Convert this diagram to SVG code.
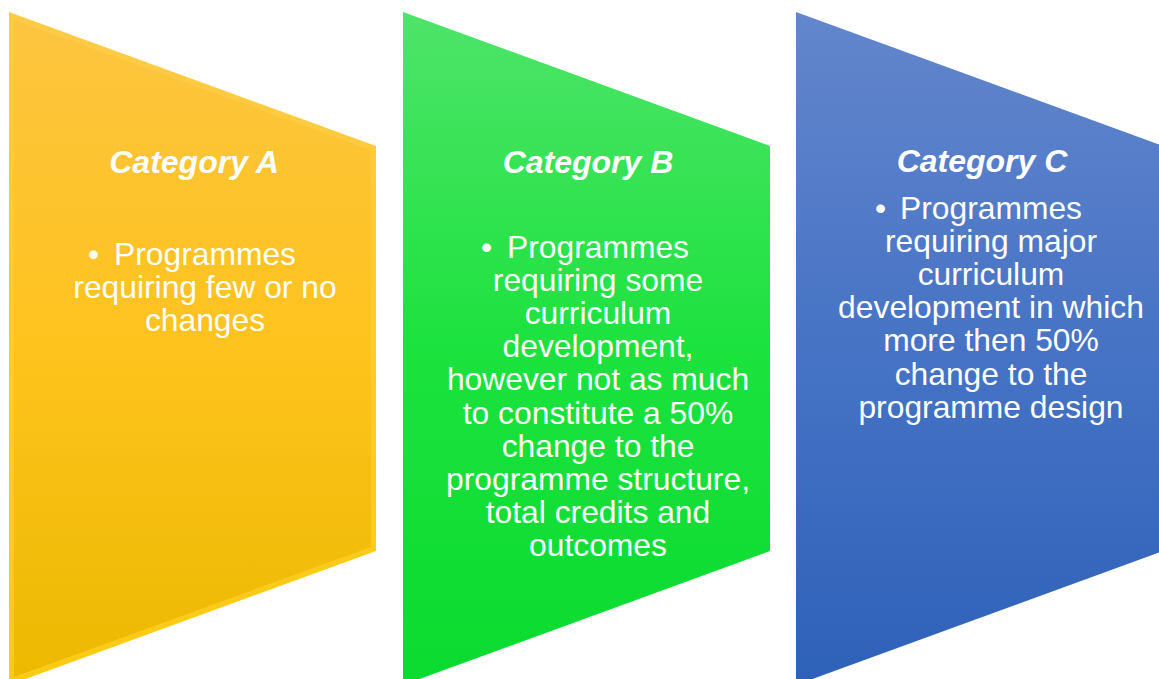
<svg xmlns="http://www.w3.org/2000/svg" width="1159" height="679" viewBox="0 0 1159 679">
  <style>
    .title { font-family: "Liberation Sans", Arial, sans-serif; font-size: 32px; font-weight: bold; font-style: italic; fill: #ffffff; text-anchor: middle; }
    .body { font-family: "Liberation Sans", Arial, sans-serif; font-size: 31.8px; fill: #ffffff; text-anchor: middle; }
    .bullet { font-family: "Liberation Sans", Arial, sans-serif; font-size: 31.8px; fill: #ffffff; }
  </style>
  <defs>
    <linearGradient id="gA" gradientUnits="userSpaceOnUse" x1="0" y1="12" x2="0" y2="685">
      <stop offset="0" stop-color="#FDC541"/>
      <stop offset="0.5" stop-color="#FEC31D"/>
      <stop offset="1" stop-color="#ECB900"/>
    </linearGradient>
    <linearGradient id="gAedge" gradientUnits="userSpaceOnUse" x1="0" y1="12" x2="0" y2="685">
      <stop offset="0" stop-color="#FDCB48"/>
      <stop offset="1" stop-color="#FBCB12"/>
    </linearGradient>
    <linearGradient id="gB" gradientUnits="userSpaceOnUse" x1="0" y1="12" x2="0" y2="685">
      <stop offset="0" stop-color="#4EE469"/>
      <stop offset="0.5" stop-color="#1CE23E"/>
      <stop offset="1" stop-color="#0ADB2F"/>
    </linearGradient>
    <linearGradient id="gC" gradientUnits="userSpaceOnUse" x1="0" y1="12" x2="0" y2="685">
      <stop offset="0" stop-color="#6386CC"/>
      <stop offset="0.5" stop-color="#4673C5"/>
      <stop offset="1" stop-color="#2E61B9"/>
    </linearGradient>
  </defs>

  <g id="connectors"></g>

  <g id="nodeA">
    <polygon points="9,12 376,146 376,551 9,685" fill="url(#gAedge)"/>
    <polygon points="14,20 371,150 371,547 14,677" fill="url(#gA)"/>
    <text class="title" x="194" y="173">Category A</text>
    <text class="bullet" x="88" y="265">•</text>
    <text class="body" x="205" y="265">Programmes</text>
    <text class="body" x="205" y="298.1">requiring few or no</text>
    <text class="body" x="205" y="331.2">changes</text>
  </g>

  <g id="nodeB">
    <polygon points="403,12 770,146 770,551 403,685" fill="url(#gB)"/>
    <text class="title" x="588" y="173">Category B</text>
    <text class="bullet" x="481" y="258">•</text>
    <text class="body" x="598" y="258">Programmes</text>
    <text class="body" x="598" y="291.1">requiring some</text>
    <text class="body" x="598" y="324.2">curriculum</text>
    <text class="body" x="598" y="357.3">development,</text>
    <text class="body" x="598" y="390.4">however not as much</text>
    <text class="body" x="598" y="423.5">to constitute a 50%</text>
    <text class="body" x="598" y="456.6">change to the</text>
    <text class="body" x="598" y="489.7">programme structure,</text>
    <text class="body" x="598" y="522.8">total credits and</text>
    <text class="body" x="598" y="555.9">outcomes</text>
  </g>

  <g id="nodeC">
    <polygon points="796,12 1163,146 1163,551 796,685" fill="url(#gC)"/>
    <text class="title" x="982" y="172">Category C</text>
    <text class="bullet" x="875" y="219">•</text>
    <text class="body" x="991" y="219">Programmes</text>
    <text class="body" x="991" y="252.1">requiring major</text>
    <text class="body" x="991" y="285.2">curriculum</text>
    <text class="body" x="991" y="318.3">development in which</text>
    <text class="body" x="991" y="351.4">more then 50%</text>
    <text class="body" x="991" y="384.5">change to the</text>
    <text class="body" x="991" y="417.6">programme design</text>
  </g>
</svg>
